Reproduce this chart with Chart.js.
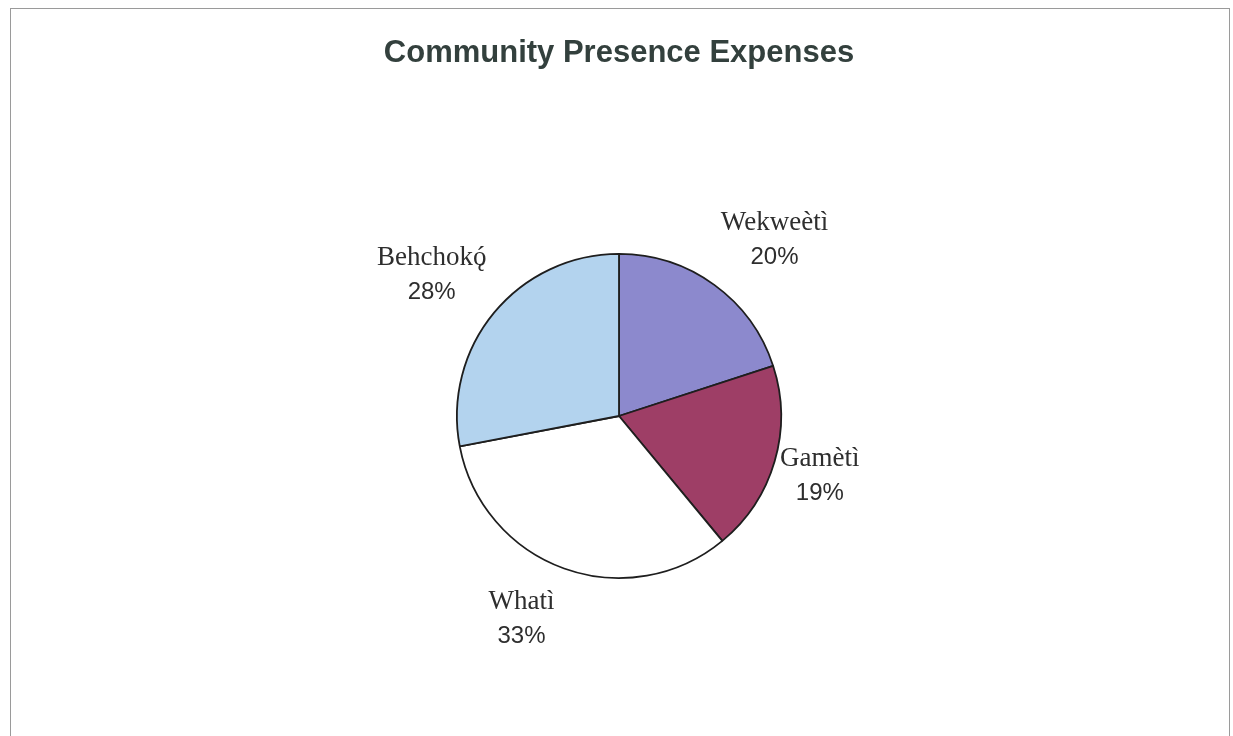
<!DOCTYPE html>
<html>
<head>
<meta charset="utf-8">
<title>Community Presence Expenses</title>
<script src="https://cdn.jsdelivr.net/npm/chart.js@4/dist/chart.umd.min.js"></script>
<style>
    html, body { margin: 0; padding: 0; background: #ffffff; }
    #expenses-chart { display: block; }
</style>
</head>
<body>
<canvas id="expenses-chart" width="1233" height="736"></canvas>
<script>
// Share of community presence expenses, clockwise from the top
const communities = ['Wekweètì', 'Gamètì', 'Whatì', 'Behchokǫ́'];
const expenseShares = [20, 19, 33, 28];
const sliceColors = ['#8c89cd', '#9e3e66', '#ffffff', '#b3d3ee'];

// Per-label nudges (px) applied after the outside placement
const labelNudges = [[14, -5], [-17, -2], [-23, 0], [-1, -7]];

const NAME_FONT = '27px "Liberation Serif", "Times New Roman", serif';
const PCT_FONT = '24px "Liberation Sans", Arial, sans-serif';

// Liberation Serif has no mark positioning, so combining accents are
// drawn as spacing accents centred over their base letter.
const SPACING_MARKS = { '\u0301': '\u00B4', '\u0300': '`' };

function drawName(ctx, text, cx, y) {
    const chars = [];
    for (const ch of text) {
        if (SPACING_MARKS[ch] && chars.length) {
            chars[chars.length - 1].mark = SPACING_MARKS[ch];
        } else {
            chars.push({ ch: ch, mark: null });
        }
    }
    const plain = chars.map(c => c.ch).join('');
    const width = ctx.measureText(plain).width;
    const left = cx - width / 2;

    ctx.textAlign = 'left';
    ctx.fillText(plain, left, y);

    let prefix = '';
    chars.forEach(c => {
        if (c.mark) {
            const x0 = left + ctx.measureText(prefix).width;
            const w = ctx.measureText(c.ch).width;
            ctx.textAlign = 'center';
            ctx.fillText(c.mark, x0 + w / 2 + 1, y);
            ctx.textAlign = 'left';
        }
        prefix += c.ch;
    });
    ctx.textAlign = 'center';
    return width;
}

// Thin frame round the whole chart
const framePlugin = {
    id: 'frame',
    beforeDraw(chart) {
        const ctx = chart.ctx;
        ctx.save();
        ctx.strokeStyle = '#9a9a9a';
        ctx.lineWidth = 1;
        ctx.strokeRect(10.5, 8.5, 1219, 740);
        ctx.restore();
    }
};

// Name + percentage outside each slice
const outsideLabels = {
    id: 'outsideLabels',
    afterDatasetsDraw(chart) {
        const ctx = chart.ctx;
        const meta = chart.getDatasetMeta(0);
        const values = chart.data.datasets[0].data;
        const total = values.reduce((a, b) => a + b, 0);

        ctx.save();
        ctx.fillStyle = '#2e2e2e';
        ctx.textAlign = 'center';
        ctx.textBaseline = 'alphabetic';

        meta.data.forEach((arc, i) => {
            const p = arc.getProps(['x', 'y', 'startAngle', 'endAngle', 'outerRadius'], true);
            const mid = (p.startAngle + p.endAngle) / 2;
            const ux = Math.cos(mid);
            const uy = Math.sin(mid);
            const name = chart.data.labels[i];
            const pct = Math.round(values[i] / total * 100) + '%';

            ctx.font = NAME_FONT;
            const hw = Math.max(ctx.measureText(name.normalize('NFD')).width, 48) / 2;
            const hh = 27;
            const r = p.outerRadius + 25;
            const cx = p.x + (r + hw) * ux + labelNudges[i][0];
            const cy = p.y + (r + hh) * uy + labelNudges[i][1];

            drawName(ctx, name, cx, cy - 8);
            ctx.font = PCT_FONT;
            ctx.fillText(pct, cx, cy + 26);
        });
        ctx.restore();
    }
};

const chart = new Chart(document.getElementById('expenses-chart'), {
    type: 'pie',
    data: {
        labels: communities,
        datasets: [{
            data: expenseShares,
            backgroundColor: sliceColors,
            borderColor: '#1e1e1e',
            borderWidth: 1.8
        }]
    },
    options: {
        responsive: false,
        animation: false,
        layout: {
            padding: { top: 0, bottom: 157, left: 10, right: 5 }
        },
        plugins: {
            legend: { display: false },
            tooltip: { enabled: false },
            title: {
                display: true,
                text: 'Community Presence Expenses',
                color: '#33403d',
                font: { family: '"Liberation Sans", Arial, sans-serif', size: 31, weight: 'bold' },
                padding: { top: 34.4, bottom: 181.4 }
            }
        }
    },
    plugins: [framePlugin, outsideLabels]
});
</script>
</body>
</html>
